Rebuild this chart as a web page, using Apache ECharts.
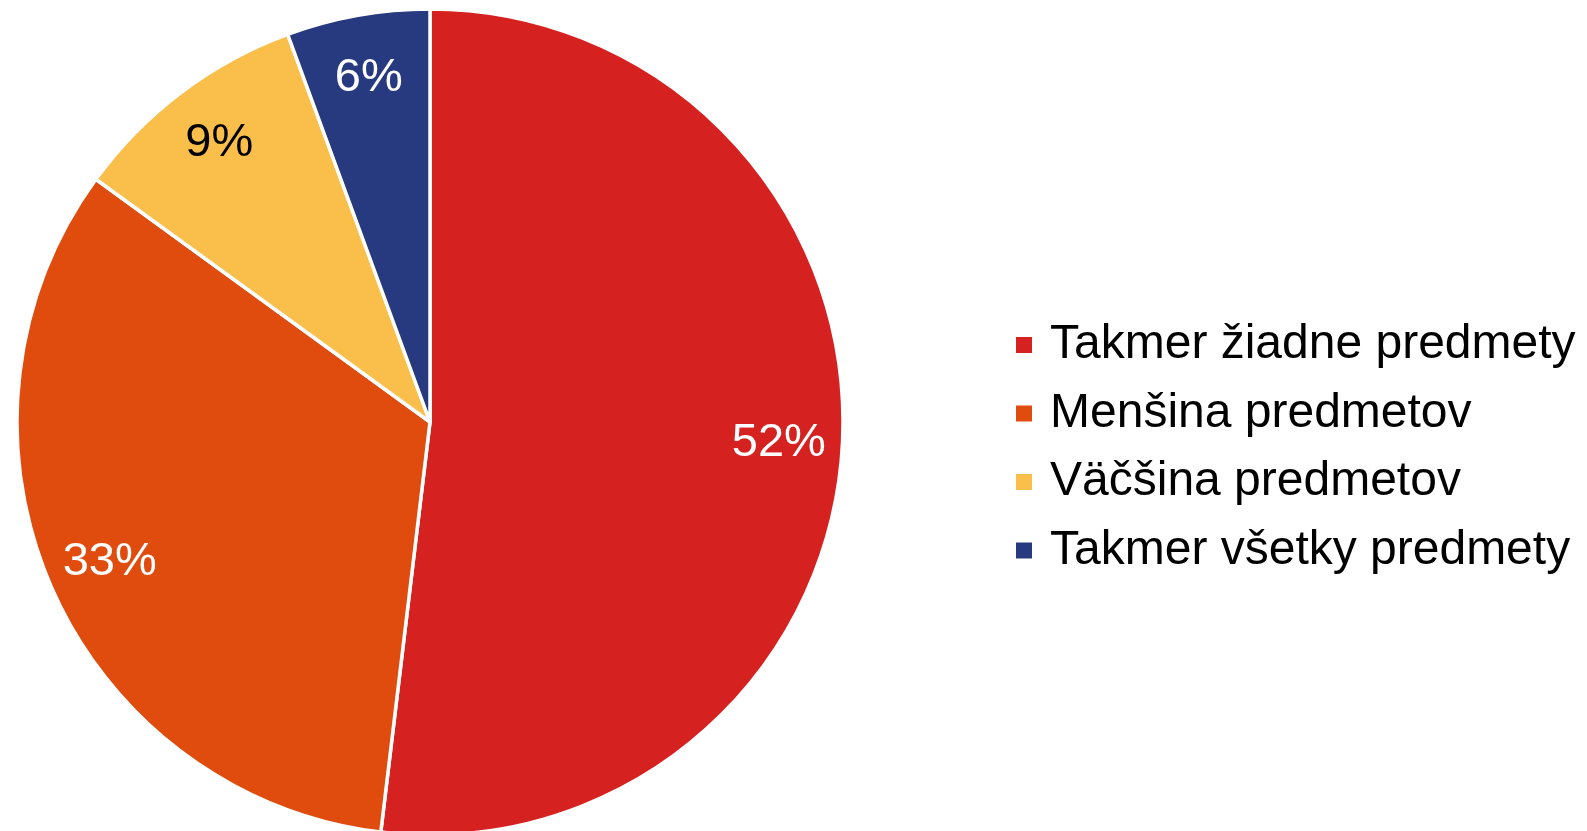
<!DOCTYPE html>
<html>
<head>
<meta charset="utf-8">
<script src="https://cdn.jsdelivr.net/npm/echarts@6/dist/echarts.min.js"></script>
<style>
  html, body { margin: 0; padding: 0; background: #fff; }
  #main { width: 1587px; height: 831px; }
</style>
</head>
<body>
<div id="main"></div>
<script>
// podiel odpovedí
var categories = ['Takmer žiadne predmety', 'Menšina predmetov', 'Väčšina predmetov', 'Takmer všetky predmety'];
var values = [51.9, 33.1, 9.4, 5.6];
var colors = ['#D52221', '#E04B0E', '#FABF4B', '#273A7F'];
var labelColors = ['#fff', '#fff', '#000', '#fff'];

var myChart = echarts.init(document.getElementById('main'));

var pieData = categories.map(function (name, i) {
    return { name: name, value: values[i], itemStyle: { color: colors[i] } };
});
// druhý priehľadný kruh iba kvôli umiestneniu popisov
var labelData = categories.map(function (name, i) {
    return {
        name: name, value: values[i],
        itemStyle: { color: 'rgba(0,0,0,0)' },
        label: { color: labelColors[i] }
    };
});

var option = {
    animation: false,
    color: colors,
    legend: {
        orient: 'vertical',
        left: 1009,
        top: 315,
        itemWidth: 18,
        itemHeight: 18,
        itemGap: 18.5,
        icon: 'rect',
        selectedMode: false,
        data: categories,
        textStyle: {
            fontFamily: 'Liberation Sans, Arial, sans-serif',
            fontSize: 48,
            lineHeight: 50,
            color: '#000',
            padding: [0, 0, 0, 12]
        }
    },
    series: [
        {
            type: 'pie',
            center: [430, 422],
            radius: [0, 413],
            startAngle: 90,
            clockwise: true,
            silent: true,
            data: pieData,
            itemStyle: { borderColor: '#fff', borderWidth: 3.5 },
            label: { show: false },
            labelLine: { show: false }
        },
        {
            type: 'pie',
            center: [430, 422],
            radius: [280, 413],
            startAngle: 90,
            clockwise: true,
            silent: true,
            percentPrecision: 0,
            data: labelData,
            itemStyle: { borderWidth: 0 },
            label: {
                show: true,
                position: 'inside',
                formatter: '{d}%',
                fontFamily: 'Liberation Sans, Arial, sans-serif',
                fontSize: 47
            },
            labelLine: { show: false }
        }
    ]
};

myChart.setOption(option);
</script>
</body>
</html>
